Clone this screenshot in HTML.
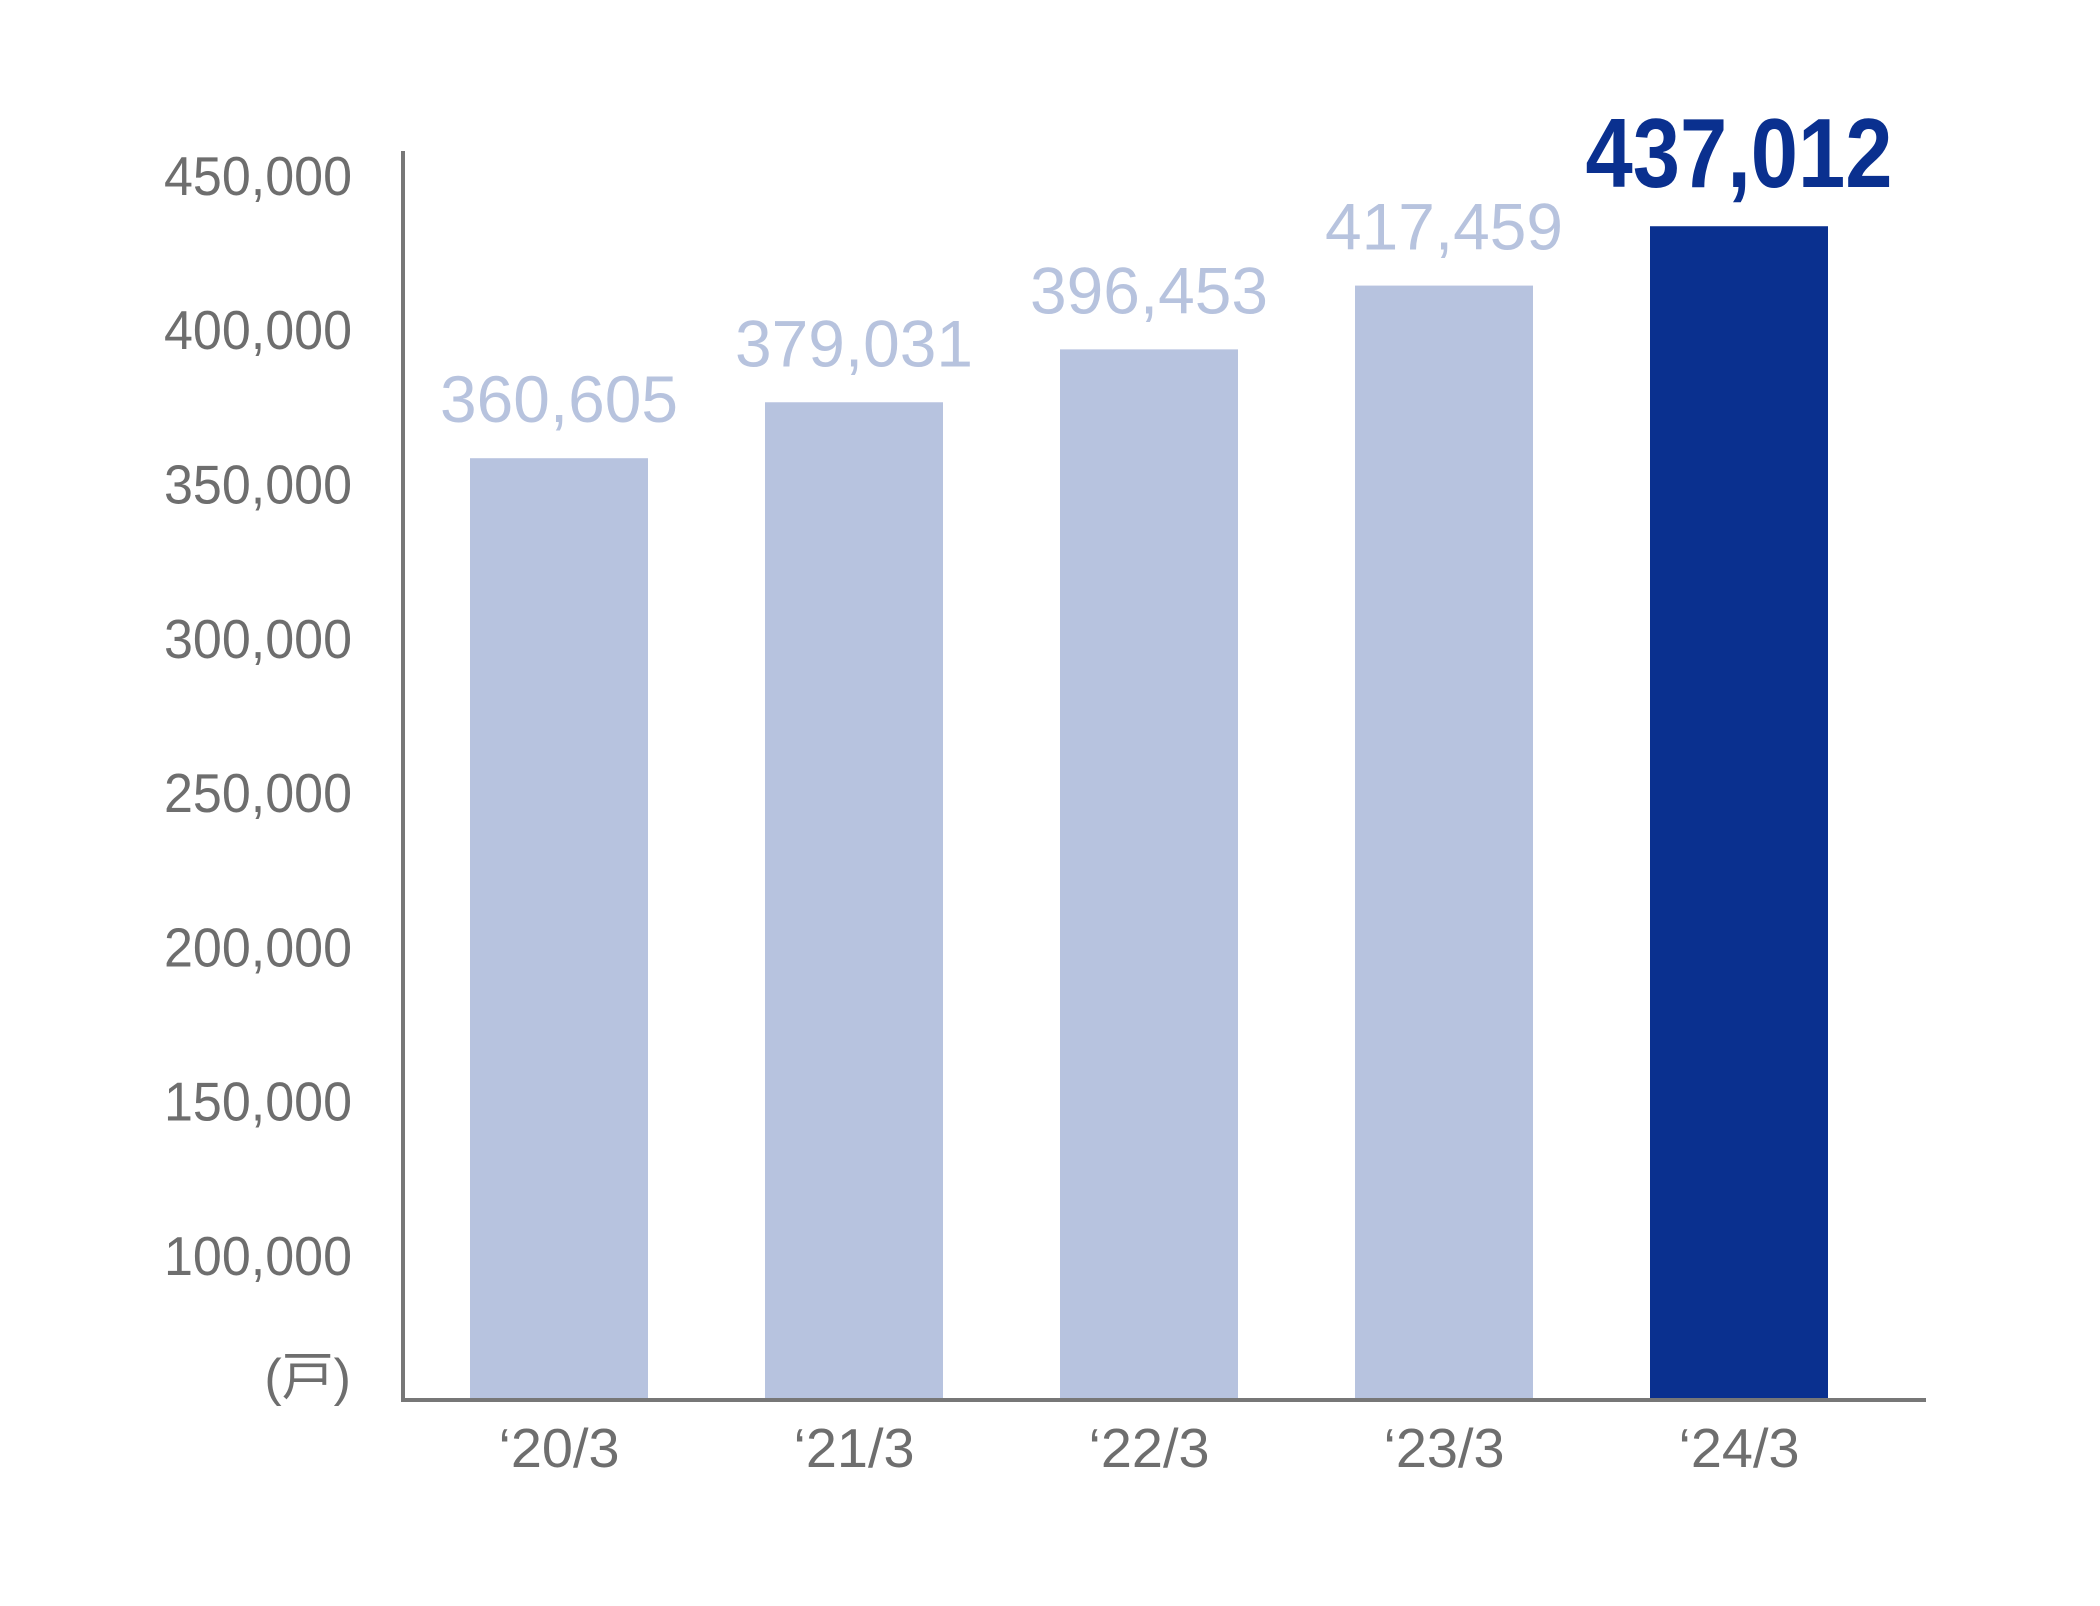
<!DOCTYPE html>
<html><head><meta charset="utf-8"><style>
html,body{margin:0;padding:0;background:#fff;}
svg{display:block;}
text{font-family:"Liberation Sans","Noto Sans CJK JP",sans-serif;}
</style></head><body>
<svg id="chart" width="2100" height="1606" viewBox="0 0 2100 1606" xmlns="http://www.w3.org/2000/svg">
<g id="ticks"></g>
<g id="bars"></g>
<g id="xlabels"></g>
<line x1="403" y1="151" x2="403" y2="1400" stroke="#777" stroke-width="4"/>
<line x1="401" y1="1400" x2="1926" y2="1400" stroke="#777" stroke-width="4"/>
<text x="351" y="1395" text-anchor="end" font-size="52" fill="#6e6e6e">(戸)</text>
</svg>
<script>
const categories = ["‘20/3","‘21/3","‘22/3","‘23/3","‘24/3"];
const values = [360605, 379031, 396453, 417459, 437012];
const valueLabels = ["360,605","379,031","396,453","417,459","437,012"];
const tickLabels = ["450,000","400,000","350,000","300,000","250,000","200,000","150,000","100,000"];
const tickValues = [450000,400000,350000,300000,250000,200000,150000,100000];

const NS = "http://www.w3.org/2000/svg";
function yBar(v){ return 1553 - v*0.003036; }
function yTick(v){ return 1275 - (v-100000)/50000*154.3; }
function xCenter(i){ return 559 + i*295; }
const barW = 178;

const tg = document.getElementById('ticks');
tickValues.forEach((v,i)=>{
  const t = document.createElementNS(NS,'text');
  
  
  t.setAttribute('x',352); t.setAttribute('y',yTick(v));
  t.setAttribute('text-anchor','end'); t.setAttribute('font-size','55');
  t.setAttribute('fill','#6e6e6e');
  t.setAttribute('textLength','188'); t.setAttribute('lengthAdjust','spacingAndGlyphs');
  t.textContent = tickLabels[i];
  tg.appendChild(t);
});

const bg = document.getElementById('bars');
const xg = document.getElementById('xlabels');
values.forEach((v,i)=>{
  const last = i===values.length-1;
  const top = yBar(v);
  const r = document.createElementNS(NS,'rect');
  
  
  r.setAttribute('x',xCenter(i)-barW/2); r.setAttribute('y',top);
  r.setAttribute('width',barW); r.setAttribute('height',1400-top);
  r.setAttribute('fill', last ? '#0a308f' : '#b7c3df');
  bg.appendChild(r);
  const t = document.createElementNS(NS,'text');
  
  
  t.setAttribute('x',xCenter(i)); t.setAttribute('y',top-(last?39:36));
  t.setAttribute('text-anchor','middle');
  t.setAttribute('font-size', last?'98':'66');
  t.setAttribute('font-weight', last?'bold':'normal');
  t.setAttribute('fill', last ? '#0a308f' : '#b7c3de');
  t.setAttribute('textLength', last?'307':'238'); t.setAttribute('lengthAdjust','spacingAndGlyphs');
  t.textContent = valueLabels[i];
  bg.appendChild(t);
  const c = document.createElementNS(NS,'text');
  
  
  c.setAttribute('x',xCenter(i)); c.setAttribute('y',1467);
  c.setAttribute('text-anchor','middle'); c.setAttribute('font-size','55');
  c.setAttribute('fill','#6e6e6e');
  c.setAttribute('textLength','121'); c.setAttribute('lengthAdjust','spacingAndGlyphs');
  c.textContent = categories[i];
  xg.appendChild(c);
});
</script>
</body></html>
